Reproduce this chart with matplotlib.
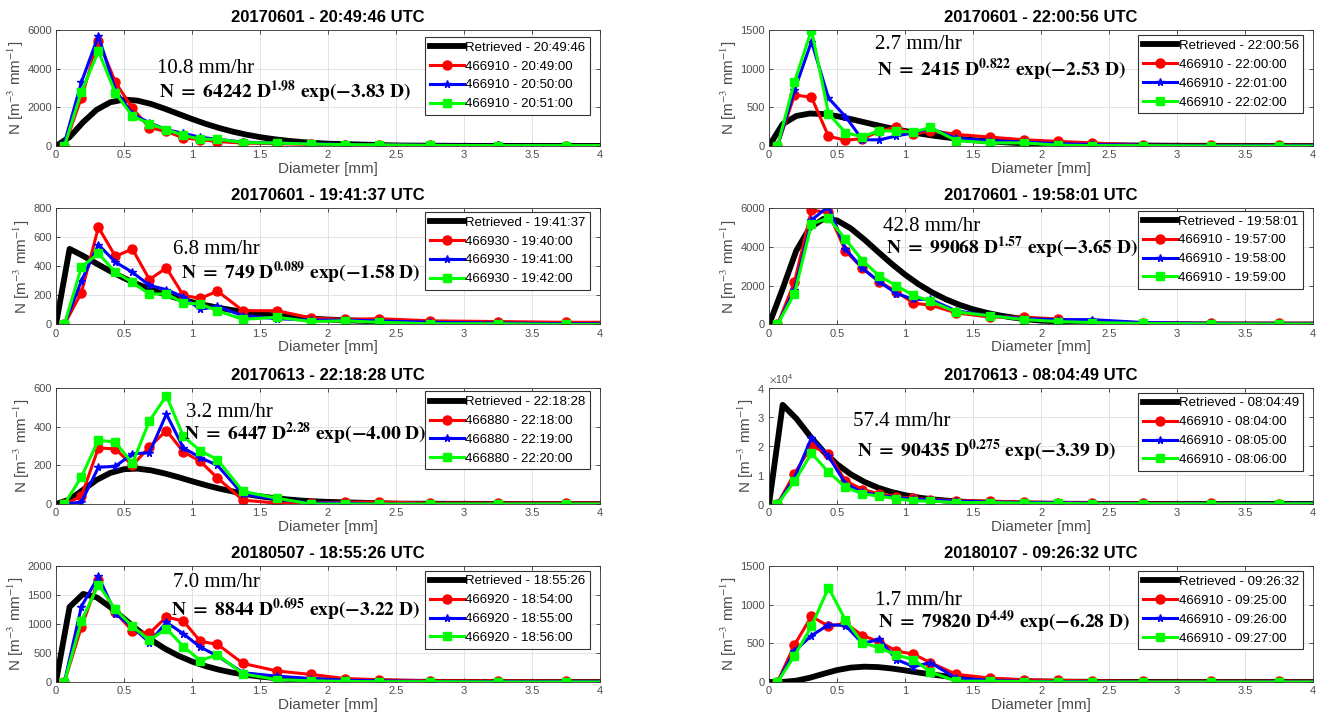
import matplotlib
matplotlib.use('Agg')
import matplotlib.pyplot as plt
from matplotlib.ticker import FuncFormatter, MultipleLocator

plt.rcParams['font.family'] = ['Liberation Sans', 'DejaVu Sans']
plt.rcParams['mathtext.fontset'] = 'stix'

# disdrometer bin centres [mm]
D_BIN = [0.062, 0.187, 0.312, 0.437, 0.562, 0.687, 0.812, 0.937, 1.062, 1.187,
         1.375, 1.625, 1.875, 2.125, 2.375, 2.75, 3.25, 3.75, 4.25]
# diameters where the retrieved DSD is drawn [mm]
D_FIT = [0.0, 0.1, 0.2, 0.3, 0.4, 0.5, 0.6, 0.7, 0.8, 0.9, 1.0, 1.1, 1.2, 1.3,
         1.4, 1.5, 1.6, 1.7, 1.8, 1.9, 2.0, 2.5, 3.0, 3.5, 4.0]

titles = ['20170601 - 20:49:46 UTC', '20170601 - 22:00:56 UTC',
          '20170601 - 19:41:37 UTC', '20170601 - 19:58:01 UTC',
          '20170613 - 22:18:28 UTC', '20170613 - 08:04:49 UTC',
          '20180507 - 18:55:26 UTC', '20180107 - 09:26:32 UTC']
ret_times = ['20:49:46', '22:00:56', '19:41:37', '19:58:01',
             '22:18:28', '08:04:49', '18:55:26', '09:26:32']
stations = ['466910', '466910', '466930', '466910', '466880', '466910', '466920', '466910']
obs_times = [['20:49:00', '20:50:00', '20:51:00'],
             ['22:00:00', '22:01:00', '22:02:00'],
             ['19:40:00', '19:41:00', '19:42:00'],
             ['19:57:00', '19:58:00', '19:59:00'],
             ['22:18:00', '22:19:00', '22:20:00'],
             ['08:04:00', '08:05:00', '08:06:00'],
             ['18:54:00', '18:55:00', '18:56:00'],
             ['09:25:00', '09:26:00', '09:27:00']]
rain_rates = ['10.8 mm/hr', '2.7 mm/hr', '6.8 mm/hr', '42.8 mm/hr',
              '3.2 mm/hr', '57.4 mm/hr', '7.0 mm/hr', '1.7 mm/hr']
fit_labels = [r'$\mathbf{N\ =\ 64242\ D^{1.98}\ exp(-3.83\ D)}$',
              r'$\mathbf{N\ =\ 2415\ D^{0.822}\ exp(-2.53\ D)}$',
              r'$\mathbf{N\ =\ 749\ D^{0.089}\ exp(-1.58\ D)}$',
              r'$\mathbf{N\ =\ 99068\ D^{1.57}\ exp(-3.65\ D)}$',
              r'$\mathbf{N\ =\ 6447\ D^{2.28}\ exp(-4.00\ D)}$',
              r'$\mathbf{N\ =\ 90435\ D^{0.275}\ exp(-3.39\ D)}$',
              r'$\mathbf{N\ =\ 8844\ D^{0.695}\ exp(-3.22\ D)}$',
              r'$\mathbf{N\ =\ 79820\ D^{4.49}\ exp(-6.28\ D)}$']
y_max = [6000, 1500, 800, 6000, 600, 40000, 2000, 1500]
y_step = [2000, 500, 200, 2000, 200, 10000, 500, 500]

# retrieved N(D) [m-3 mm-1] at D_FIT
ret = [
    [0, 459, 1234, 1878, 2262, 2399, 2346, 2171, 1928, 1660, 1395, 1148, 930, 743,
     587, 458, 355, 273, 208, 158, 119, 27, 6, 1, 0],
    [0, 283, 388, 420, 413, 386, 348, 307, 266, 227, 193, 162, 135, 112,
     92, 76, 62, 51, 41, 33, 27, 9, 3, 1, 0],
    [0, 521, 473, 419, 367, 320, 277, 240, 207, 179, 154, 133, 114, 98,
     85, 73, 62, 54, 46, 39, 34, 16, 7, 3, 2],
    [0, 1851, 3814, 5004, 5459, 5379, 4971, 4396, 3764, 3145, 2575, 2076, 1653, 1301,
     1015, 785, 603, 461, 350, 264, 199, 46, 10, 2, 0],
    [0, 23, 74, 125, 161, 180, 183, 174, 158, 139, 118, 98, 80, 65,
     51, 40, 31, 24, 18, 14, 11, 2, 1, 0, 0],
    [0, 34208, 29489, 23489, 18115, 13723, 10278, 7644, 5649, 4156, 3049, 2229, 1627, 1185,
     862, 626, 454, 329, 238, 172, 124, 24, 5, 1, 0],
    [0, 1293, 1518, 1458, 1290, 1092, 898, 725, 576, 453, 353, 274, 211, 161,
     123, 94, 71, 54, 40, 30, 23, 5, 1, 0, 0],
    [0, 1, 17, 55, 106, 154, 186, 198, 193, 175, 150, 122, 97, 74,
     55, 40, 29, 20, 14, 9, 6, 1, 0, 0, 0],
]

# observed N(D) at D_BIN, three consecutive minutes per panel
obs_a = [
    [0, 2500, 5450, 3300, 1950, 950, 750, 420, 330, 230, 150, 120, 80, 40, 60, 30, 20, 20, 20],
    [0, 660, 630, 125, 75, 95, 190, 245, 150, 200, 150, 115, 80, 60, 40, 10, 10, 10, 10],
    [0, 220, 670, 470, 520, 310, 390, 200, 180, 230, 95, 95, 45, 35, 40, 25, 20, 15, 15],
    [0, 2200, 5900, 5800, 3800, 2900, 2200, 1700, 1100, 1000, 600, 380, 380, 280, 150, 80, 60, 60, 60],
    [0, 40, 290, 285, 200, 295, 380, 270, 220, 135, 20, 5, 5, 10, 10, 5, 5, 5, 5],
    [0, 10500, 20000, 17300, 8000, 5000, 3500, 2500, 2000, 1500, 1200, 1000, 700, 500, 400, 300, 200, 150, 150],
    [0, 950, 1750, 1200, 880, 840, 1120, 1050, 700, 650, 320, 190, 130, 60, 40, 20, 20, 15, 15],
    [0, 480, 850, 720, 760, 600, 520, 400, 360, 250, 100, 50, 30, 20, 15, 10, 10, 10, 10],
]
obs_b = [
    [150, 3300, 5700, 2900, 1650, 1200, 850, 650, 450, 350, 200, 150, 120, 80, 60, 40, 30, 20, 20],
    [0, 720, 1350, 620, 380, 80, 80, 130, 170, 230, 100, 70, 50, 30, 20, 10, 5, 5, 5],
    [0, 300, 550, 430, 360, 270, 240, 190, 105, 125, 60, 40, 30, 30, 25, 15, 10, 5, 5],
    [0, 1800, 5400, 6100, 3900, 2900, 2200, 1600, 1300, 1300, 700, 450, 300, 250, 250, 100, 50, 30, 30],
    [0, 10, 190, 195, 260, 265, 465, 290, 240, 200, 50, 25, 5, 5, 0, 0, 0, 0, 0],
    [0, 9000, 22800, 16500, 7000, 4000, 3000, 2200, 1800, 1400, 1000, 700, 500, 400, 300, 200, 100, 100, 100],
    [0, 1300, 1820, 1180, 950, 680, 1030, 830, 600, 450, 160, 100, 60, 30, 20, 10, 5, 5, 5],
    [0, 400, 600, 740, 730, 500, 550, 290, 200, 250, 50, 20, 10, 5, 5, 0, 0, 0, 0],
]
obs_c = [
    [0, 2800, 4900, 2750, 1550, 1150, 850, 550, 350, 350, 180, 150, 100, 70, 60, 30, 20, 20, 20],
    [0, 830, 1500, 420, 170, 120, 200, 190, 180, 240, 70, 40, 40, 10, 5, 5, 0, 0, 0],
    [0, 395, 490, 360, 290, 210, 210, 150, 140, 95, 35, 50, 20, 25, 15, 5, 5, 0, 0],
    [0, 1600, 5200, 5500, 4400, 3300, 2500, 2000, 1500, 1200, 650, 450, 250, 150, 100, 50, 30, 20, 20],
    [0, 140, 330, 320, 210, 430, 560, 350, 275, 230, 65, 30, 0, 0, 0, 0, 0, 0, 0],
    [0, 7800, 17500, 11000, 5800, 3500, 2700, 1800, 1100, 1000, 500, 500, 300, 200, 100, 100, 50, 50, 50],
    [0, 1050, 1680, 1250, 960, 720, 920, 610, 370, 470, 140, 40, 20, 10, 5, 5, 0, 0, 0],
    [0, 340, 720, 1220, 800, 510, 440, 350, 290, 130, 10, 10, 5, 0, 0, 0, 0, 0, 0],
]

# text placement (axes fraction) and legend top for each panel
txt_pos = [(0.186, 0.669, 0.19, 0.467), (0.195, 0.875, 0.198, 0.652),
           (0.215, 0.645, 0.23, 0.44), (0.21, 0.845, 0.215, 0.66),
           (0.239, 0.785, 0.235, 0.60), (0.154, 0.707, 0.162, 0.46),
           (0.215, 0.86, 0.212, 0.617), (0.194, 0.70, 0.2, 0.515)]
leg_top = [0.94, 0.955, 0.97, 0.98, 0.97, 0.96, 0.96, 0.955]

fig = plt.figure(figsize=(13.23, 7.22), dpi=100)
lefts = [0.0423, 0.5813]
bottoms = [0.7978, 0.5506, 0.3019, 0.0554]
gray = '#333333'

for i in range(8):
    ax = fig.add_axes([lefts[i % 2], bottoms[i // 2], 0.4112, 0.1607])
    st = stations[i]
    ax.plot(D_FIT, ret[i], color='k', lw=4.2, label='Retrieved - ' + ret_times[i])
    ax.plot(D_BIN, obs_a[i], color='r', lw=2.2, marker='o', ms=6.5,
            label=st + ' - ' + obs_times[i][0])
    ax.plot(D_BIN, obs_b[i], color='b', lw=2.2, marker='*', ms=5.5,
            label=st + ' - ' + obs_times[i][1])
    ax.plot(D_BIN, obs_c[i], color='#00ff00', lw=2.2, marker='s', ms=5.5,
            label=st + ' - ' + obs_times[i][2])

    ax.set_xlim(0, 4)
    ax.set_ylim(0, y_max[i])
    ax.xaxis.set_major_locator(MultipleLocator(0.5))
    ax.yaxis.set_major_locator(MultipleLocator(y_step[i]))
    ax.xaxis.set_major_formatter(FuncFormatter(lambda v, p: '%g' % v))
    if y_max[i] >= 10000:
        ax.ticklabel_format(axis='y', style='sci', scilimits=(0, 0), useMathText=True)
        ax.yaxis.get_offset_text().set_fontsize(7.5)
        ax.yaxis.get_offset_text().set_color('#666666')
    ax.grid(True, color='#e3e3e3', lw=0.7)
    ax.set_axisbelow(True)
    ax.tick_params(direction='in', length=3, top=True, right=True,
                   labelsize=8, colors=gray, labelcolor='#4d4d4d', width=0.6, pad=3)
    for s in ax.spines.values():
        s.set_color(gray)
        s.set_linewidth(0.6)

    ax.set_title(titles[i], fontsize=12, fontweight='bold', pad=6)
    ax.set_xlabel('Diameter [mm]', fontsize=11, color='#4d4d4d', labelpad=1)
    ax.set_ylabel(r'N [m$^{-3}$ mm$^{-1}$]', fontsize=11, color='#4d4d4d', labelpad=1)

    x1, y1, x2, y2 = txt_pos[i]
    ax.text(x1, y1, rain_rates[i], transform=ax.transAxes, fontsize=15,
            family='Liberation Serif', va='center', ha='left')
    ax.text(x2, y2, fit_labels[i], transform=ax.transAxes, fontsize=14,
            va='center', ha='left')

    leg = ax.legend(loc='upper right', bbox_to_anchor=(0.982, leg_top[i]),
                    fontsize=9.5, fancybox=False, framealpha=1, edgecolor=gray,
                    handlelength=2.6, handletextpad=0.1, labelspacing=0.5,
                    borderpad=0.35, borderaxespad=0)
    leg.get_frame().set_linewidth(0.8)

fig.savefig('out.png', dpi=100)
